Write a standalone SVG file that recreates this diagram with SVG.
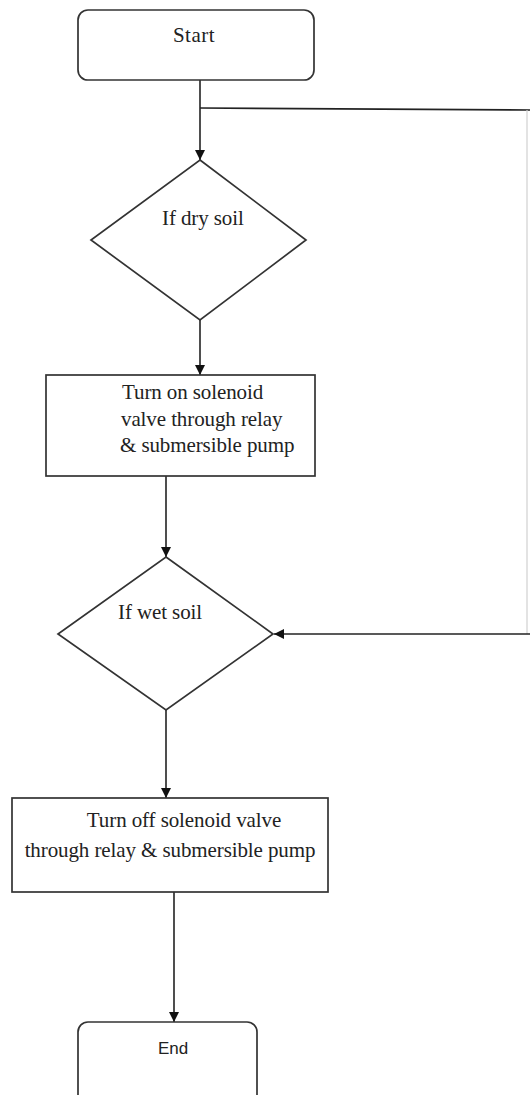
<svg xmlns="http://www.w3.org/2000/svg" width="530" height="1095" viewBox="0 0 530 1095">
<defs>
<marker id="ah" viewBox="0 0 10 10" refX="10" refY="5" markerWidth="10" markerHeight="10" markerUnits="userSpaceOnUse" orient="auto">
<path d="M0,0 L10,5 L0,10 Z" fill="#111"/>
</marker>
</defs>
<style>
.box{fill:#fff;stroke:#333;stroke-width:1.7}
.t{font-family:"Liberation Serif","Times New Roman",serif;font-size:21px;fill:#222;letter-spacing:-0.1px}
.s{font-family:"Liberation Sans",Arial,sans-serif;font-size:17px;fill:#222}
.c{fill:none;stroke:#222;stroke-width:1.6}
.cf{fill:none;stroke:#d0d0d0;stroke-width:1.2}
</style>
<rect width="530" height="1095" fill="#fff"/>
<g id="connectors">
<path class="c" d="M200,80 V160" marker-end="url(#ah)"/>
<path class="c" d="M200,108 L530,110"/>
<path class="cf" d="M527,110 V634"/>
<path class="c" d="M530,634 H274" marker-end="url(#ah)"/>
<path class="c" d="M200,320 V375" marker-end="url(#ah)"/>
<path class="c" d="M166,476 V557" marker-end="url(#ah)"/>
<path class="c" d="M166,710 V798" marker-end="url(#ah)"/>
<path class="c" d="M174,892 V1022" marker-end="url(#ah)"/>
</g>
<g id="start">
<rect class="box" x="78" y="10" width="236" height="70" rx="10"/>
<text class="t" x="194" y="42" text-anchor="middle" style="letter-spacing:0.5px">Start</text>
</g>
<g id="dry">
<polygon class="box" points="200,160 306,240 200,320 91,240"/>
<text class="t" x="162" y="225">If dry soil</text>
</g>
<g id="turnon">
<rect class="box" x="46" y="375" width="269" height="101"/>
<text class="t" x="122" y="399">Turn on solenoid</text>
<text class="t" x="121" y="426">valve through relay</text>
<text class="t" x="120" y="452">&amp; submersible pump</text>
</g>
<g id="wet">
<polygon class="box" points="166,557 273,634 166,710 58,634"/>
<text class="t" x="118" y="619">If wet soil</text>
</g>
<g id="turnoff">
<rect class="box" x="12" y="798" width="316" height="94"/>
<text class="t" x="184" y="827" text-anchor="middle">Turn off solenoid valve</text>
<text class="t" x="170" y="857" text-anchor="middle">through relay &amp; submersible pump</text>
</g>
<g id="end">
<rect class="box" x="78" y="1022" width="179" height="90" rx="10"/>
<text class="s" x="173" y="1054" text-anchor="middle">End</text>
</g>
</svg>
